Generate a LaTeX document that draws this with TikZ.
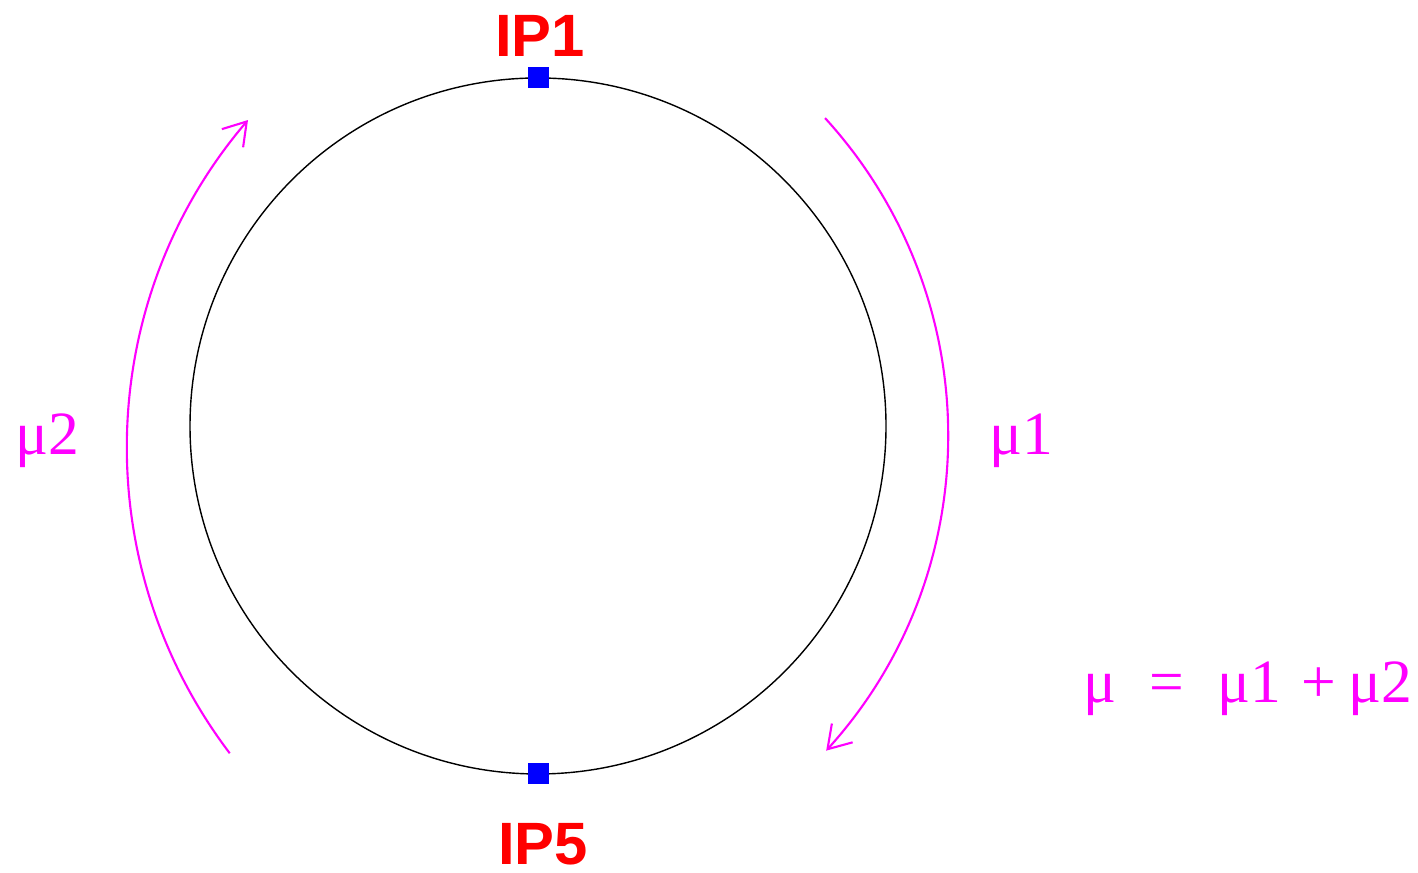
\documentclass[tikz,border=0pt]{standalone}
\usepackage{fontspec}
\setmainfont{Liberation Serif}
\newfontfamily\ipfont{Liberation Sans}
\usepackage{xcolor}
\usetikzlibrary{arrows.meta, positioning, calc}
\definecolor{mumag}{RGB}{255,0,255}

\begin{document}
\begin{tikzpicture}[
    ring/.style={draw=black, line width=0.4pt},
    ipmark/.style={rectangle, fill=blue, inner sep=0pt, minimum size=0.21cm},
    iplabel/.style={font=\ipfont\bfseries\fontsize{17}{19}\selectfont, text=red, inner sep=0pt},
    beam/.style={draw=mumag, line width=0.6pt, -{Straight Barb[length=0.22cm, width=0.28cm]}},
    mulabel/.style={font=\fontsize{17.5}{20}\selectfont, text=mumag, inner sep=0pt, anchor=base}
]
\useasboundingbox (0,0) rectangle (14.18,8.73);

% ring and interaction points
\coordinate (ringc) at (5.38,4.47);
\draw[ring] (ringc) circle[radius=3.48];
\node[ipmark] (ip1) at ($(ringc)+(0,3.48)$) {};
\node[ipmark] (ip5) at ($(ringc)+(0,-3.48)$) {};
\node[iplabel, anchor=base] (ip1lbl) at (5.40,8.16) {IP1};
\node[iplabel, anchor=base] (ip5lbl) at (5.43,0.08) {IP5};

% beam directions
\coordinate (mu1c) at (4.78,4.38);
\coordinate (mu2c) at (6.32,4.25);
\draw[beam] ($(mu1c)+(42.4:4.70)$) arc[start angle=42.4, end angle=-42.2, radius=4.70];
\draw[beam] ($(mu2c)+(217.2:5.05)$) arc[start angle=217.2, end angle=139.5, radius=5.05];

\node[mulabel] (mu2lbl) at (0.47,4.18) {μ2};
\node[mulabel] (mu1lbl) at (10.21,4.18) {μ1};
\node[mulabel, anchor=base west] (musum) at (10.83,1.70)
    {μ\hspace{0.33cm}=\hspace{0.33cm}μ1\hspace{0.2cm}+\hspace{0.13cm}μ2};

\end{tikzpicture}
\end{document}
